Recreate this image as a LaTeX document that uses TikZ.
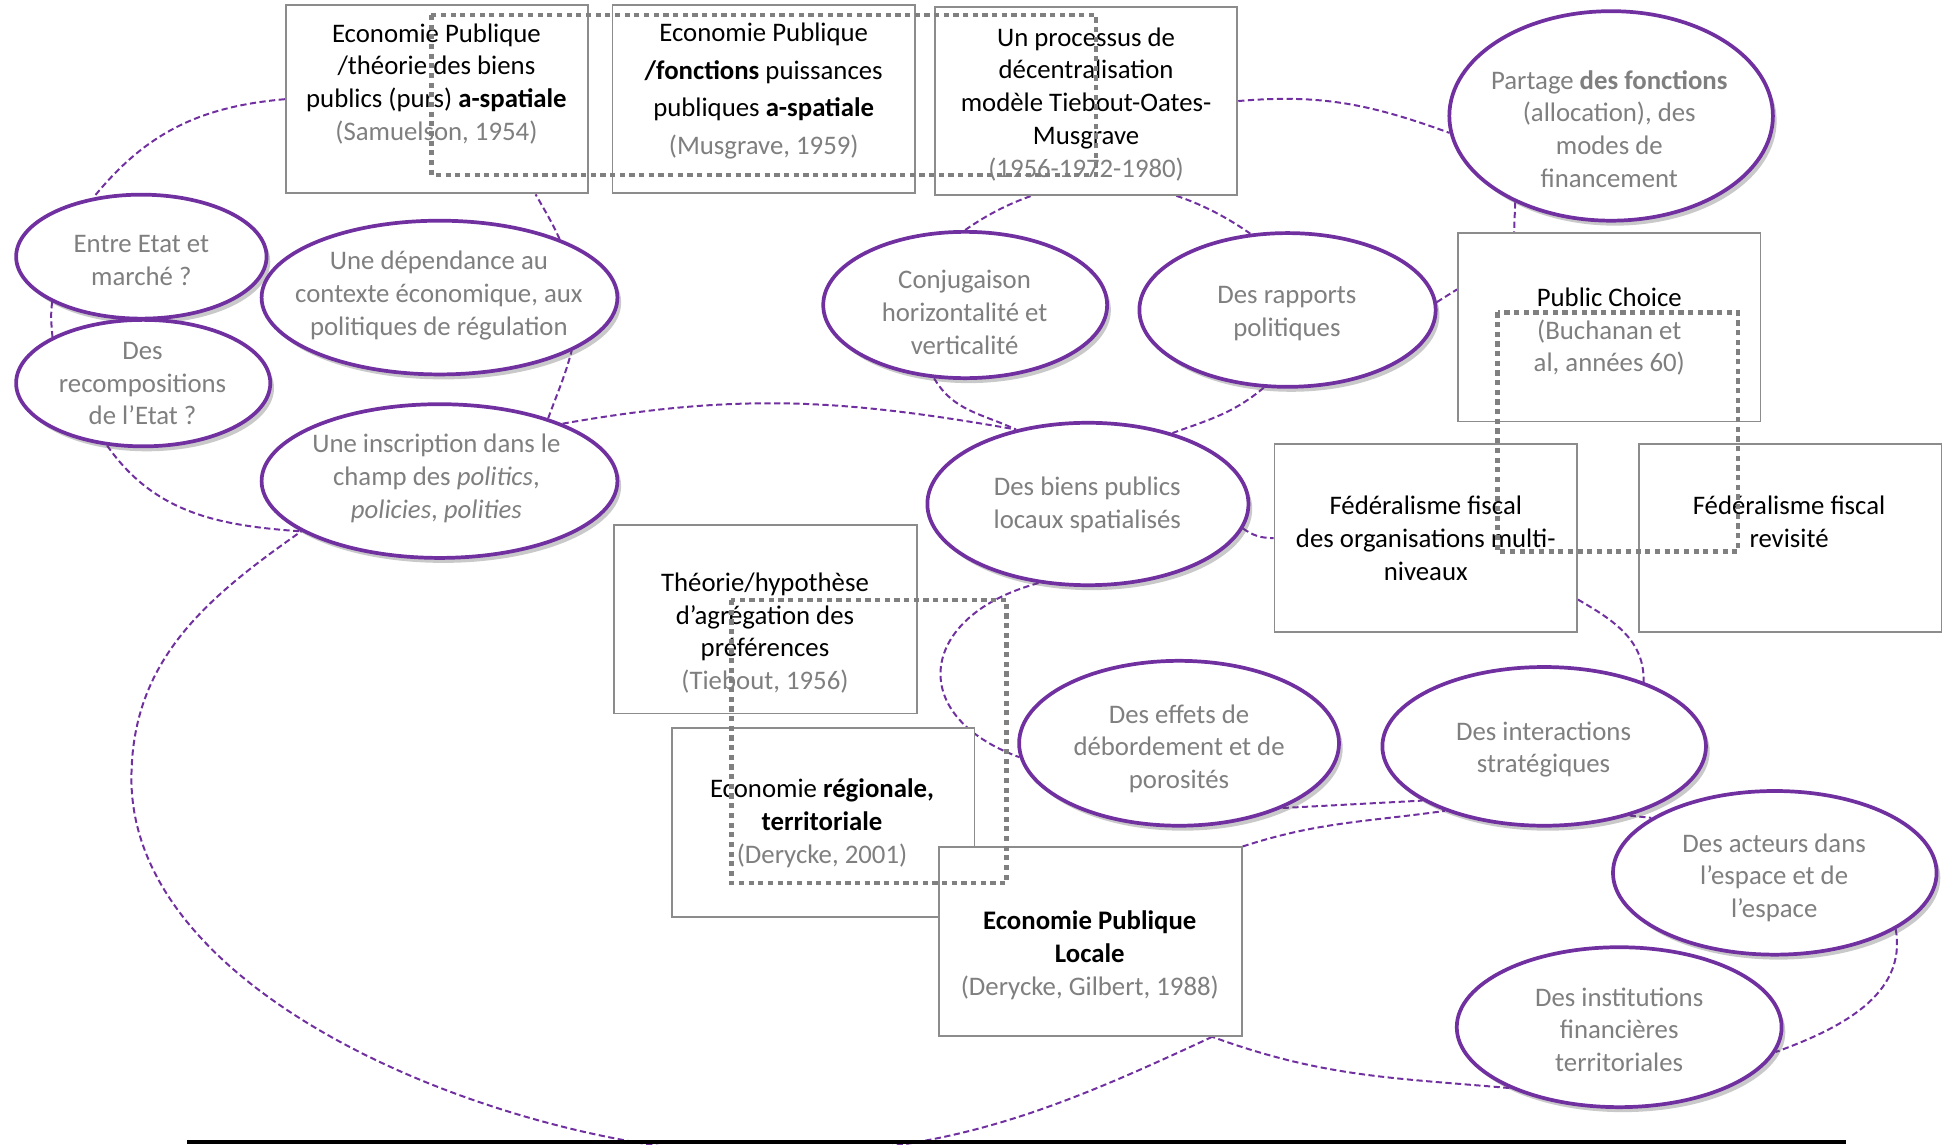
\documentclass[tikz,border=0pt]{standalone}
\usepackage{fontspec}
\setmainfont{Carlito}
\usetikzlibrary{shapes.geometric,shadows,backgrounds}

\definecolor{violetbulle}{RGB}{112,48,160}
\definecolor{grisbord}{RGB}{140,140,140}
\definecolor{gristexte}{RGB}{127,127,127}
\definecolor{grispoint}{RGB}{128,128,128}

\newcommand{\citegris}[1]{\textcolor{gristexte}{#1}}

\tikzset{
Boite/.style={draw=grisbord, fill=white, rectangle, line width=0.75pt,
        minimum width=122pt, minimum height=76pt, inner sep=0pt},
Bulle/.style={draw=violetbulle, fill=white, ellipse, line width=1.5pt, inner sep=0pt,
        drop shadow={shadow xshift=1.5pt, shadow yshift=-2pt, opacity=0.3, fill=black!70}},
Texte/.style={align=center, inner sep=0pt, yshift=-1pt, font=\fontsize{10.8}{13.2}\selectfont},
TexteBulle/.style={Texte, text=gristexte},
Lien/.style={draw=violetbulle, line width=0.8pt, dash pattern=on 2.5pt off 1.4pt},
Cadre/.style={draw=grispoint, line width=1.8pt, dash pattern=on 2.1pt off 1.8pt},
}

\begin{document}
\begin{tikzpicture}[x=0.5pt, y=-0.5pt]
\useasboundingbox (0,0) rectangle (1568,923);

% boites
\node[Boite] (B1) at (352.5,80) {};
\node[Texte] (T1) at (352,65.5) {Economie Publique\\/théorie des biens\\publics (purs) \textbf{a-spatiale}\\\citegris{(Samuelson, 1954)}};
\node[Boite] (B2) at (616,80) {};
\node[Texte, font=\fontsize{10.8}{15.2}\selectfont] (T2) at (616,71.5) {Economie Publique\\\textbf{/fonctions} puissances\\publiques \textbf{a-spatiale}\\\citegris{(Musgrave, 1959)}};
\node[Boite] (B3) at (876,81.5) {};
\node[Texte] (T3) at (876,82) {Un processus de\\décentralisation\\modèle Tiebout-Oates-\\Musgrave\\\citegris{(1956-1972-1980)}};
\node[Boite] (B4) at (1298,264) {};
\node[Texte] (T4) at (1298,265.5) {Public Choice\\\citegris{(Buchanan et}\\\citegris{al, années 60)}};
\node[Boite] (B5) at (1150,434) {};
\node[Texte] (T5) at (1150,432) {Fédéralisme fiscal\\des organisations multi-\\niveaux};
\node[Boite] (B6) at (1444,434) {};
\node[Texte] (T6) at (1443,419) {Fédéralisme fiscal\\revisité};
\node[Boite] (B7) at (617.5,499.5) {};
\node[Texte] (T7) at (617,508.5) {Théorie/hypothèse\\d’agrégation des\\préférences\\\citegris{(Tiebout, 1956)}};
\node[Boite] (B8) at (664,663.5) {};
\node[Texte] (T8) at (663,662) {Economie \textbf{régionale,}\\\textbf{territoriale}\\\citegris{(Derycke, 2001)}};
\node[Boite] (B9) at (879.5,759.5) {};
\node[Texte] (T9) at (879,768.5) {\textbf{Economie Publique}\\\textbf{Locale}\\\citegris{(Derycke, Gilbert, 1988)}};

% bulles
\node[Bulle, minimum width=101pt, minimum height=50pt] (E1) at (114,207) {};
\node[TexteBulle] (E1t) at (114,208) {Entre Etat et\\marché ?};
\node[Bulle, minimum width=102.5pt, minimum height=51pt] (E2) at (115.5,309) {};
\node[TexteBulle] (E2t) at (115,307.5) {Des\\recompositions\\de l’Etat ?};
\node[Bulle, minimum width=143.5pt, minimum height=62pt] (E3) at (354.5,240) {};
\node[TexteBulle] (E3t) at (354,236.5) {Une dépendance au\\contexte économique, aux\\politiques de régulation};
\node[Bulle, minimum width=143.5pt, minimum height=62pt] (E4) at (354.5,388) {};
\node[TexteBulle] (E4t) at (352,384) {Une inscription dans le\\champ des \textit{politics},\\\textit{policies}, \textit{polities}};
\node[Bulle, minimum width=114.5pt, minimum height=59pt] (E5) at (778.5,246) {};
\node[TexteBulle] (E5t) at (778,250) {Conjugaison\\horizontalité et\\verticalité};
\node[Bulle, minimum width=119.5pt, minimum height=62pt] (E6) at (1038.5,250) {};
\node[TexteBulle] (E6t) at (1038,251) {Des rapports\\politiques};
\node[Bulle, minimum width=130.5pt, minimum height=84.5pt] (E7) at (1299.5,93.5) {};
\node[TexteBulle] (E7t) at (1298,102) {Partage \textbf{des fonctions}\\(allocation), des\\modes de\\financement};
\node[Bulle, minimum width=129.5pt, minimum height=65.5pt] (E8) at (877.5,406.5) {};
\node[TexteBulle] (E8t) at (877,405) {Des biens publics\\locaux spatialisés};
\node[Bulle, minimum width=129pt, minimum height=66.5pt] (E9) at (951,599.5) {};
\node[TexteBulle] (E9t) at (951,602) {Des effets de\\débordement et de\\porosités};
\node[Bulle, minimum width=130.5pt, minimum height=64pt] (E10) at (1245.5,602) {};
\node[TexteBulle] (E10t) at (1245,602.5) {Des interactions\\stratégiques};
\node[Bulle, minimum width=130.5pt, minimum height=66pt] (E11) at (1431.5,704) {};
\node[TexteBulle] (E11t) at (1431,706) {Des acteurs dans\\l’espace et de\\l’espace};
\node[Bulle, minimum width=131pt, minimum height=64.5pt] (E12) at (1306,828.5) {};
\node[TexteBulle] (E12t) at (1306,828.5) {Des institutions\\financières\\territoriales};

\coordinate (creux) at (616,931);
\coordinate (gauche) at (106,628);

% liens
\begin{pgfonlayer}{background}
\draw[Lien] (B1.west) to[out=185,in=51] (E1.129);
\draw[Lien] (E1.207) to[out=263,in=95] (E2.153);
\draw[Lien] (E2.240) to[out=305,in=176] (E4.200);
\draw[Lien] (E4.30) to[out=70,in=255] (E3.338);
\draw[Lien] (E3.26) to[out=115,in=300] (B1.316);
\draw[Lien] (E5.90) to[out=35,in=145] (E6.116);
\draw[Lien] (E5.247) to[out=300,in=155] (E8.134);
\draw[Lien] (E6.253) to[out=220,in=20] (E8.40);
\draw[Lien] (E4.25) to[out=10,in=170] (E8.134);
\draw[Lien] (B3.east) to[out=5,in=160] (E7.186);
\draw[Lien] (E7.222) -- (B4.135);
\draw[Lien] (E6.3) -- (B4.166);
\draw[Lien] (E8.351) to[out=-35,in=180] (B5.west);
\draw[Lien] (B5.338) to[out=-30,in=88] (E10.33);
\draw[Lien] (E8.238) to[out=195,in=160,looseness=1.8] (E9.185);
\draw[Lien] (E9.328) -- (E10.204);
\draw[Lien] (B9.north east) to[out=18,in=188] (E10.213);
\draw[Lien] (E10.321) -- (E11.156);
\draw[Lien] (E11.335) to[out=280,in=20] (E12.351);
\draw[Lien] (E12.209) to[out=175,in=340] (B9.322);
\draw[Lien] (B9.322) to[out=205,in=0] (creux)
    to[out=180,in=270,looseness=0.8] (gauche) to[out=90,in=215] (E4.200);
\end{pgfonlayer}

% cadres pointilles
\draw[Cadre] (348,12) rectangle (884,141);
\draw[Cadre] (1208,252) rectangle (1402,445);
\draw[Cadre] (590,484) rectangle (812,712);

\draw[line width=1.5pt] (151,921) -- (1489,921);
\end{tikzpicture}
\end{document}
